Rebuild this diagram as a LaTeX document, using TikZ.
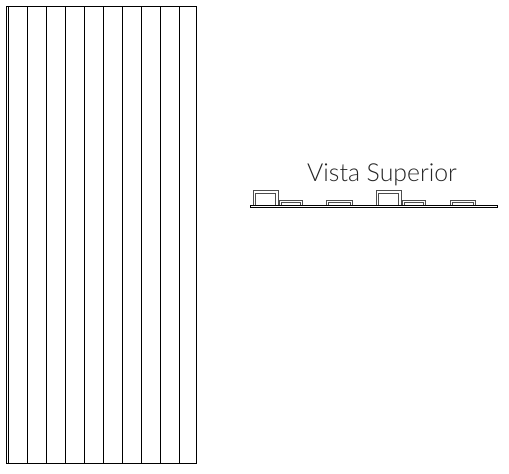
\documentclass[tikz,border=0pt]{standalone}
\usepackage{fontspec}
\setmainfont{Lato Light}
\tikzset{
  ln/.style={draw=black,line width=0.9pt},
  prof/.style={draw=black!70,line width=0.8pt},
  titletext/.style={inner sep=0pt,font=\fontsize{24.8}{27}\selectfont,text=black!85}
}
\begin{document}
\begin{tikzpicture}[x=1pt,y=-1pt]
\useasboundingbox (0,0) rectangle (509,474);
\fill[white] (0,0) rectangle (509,474);
% front view
\draw[ln] (6.5,6) rectangle (196.5,463.5);
\foreach \x in {8.2,27,46,65,84,103,122,141,160,179}{\draw[ln] (\x,6) -- (\x,463.5);}
% top view
\node[titletext,anchor=base] (title) at (382,181.5) {Vista Superior};
\foreach \a/\b in {253.5/278,376.5/401}{
  \draw[prof] (\a,205.5) -- (\a,190.8) -- (\b,190.8) -- (\b,205.5);
  \draw[prof] (\a+2.2,205.5) -- (\a+2.2,193.2) -- (\b-2.2,193.2) -- (\b-2.2,205.5);
}
\foreach \a/\b in {279.5/302.7,326.7/352.3,402.3/425.7,450/475}{
  \draw[prof] (\a,205.5) -- (\a,200.3) -- (\b,200.3) -- (\b,205.5);
  \draw[prof] (\a+2,205.5) -- (\a+2,202.7) -- (\b-2,202.7) -- (\b-2,205.5);
}
\draw[ln,fill=white] (250.8,205.3) rectangle (497,207.7);
\end{tikzpicture}
\end{document}
